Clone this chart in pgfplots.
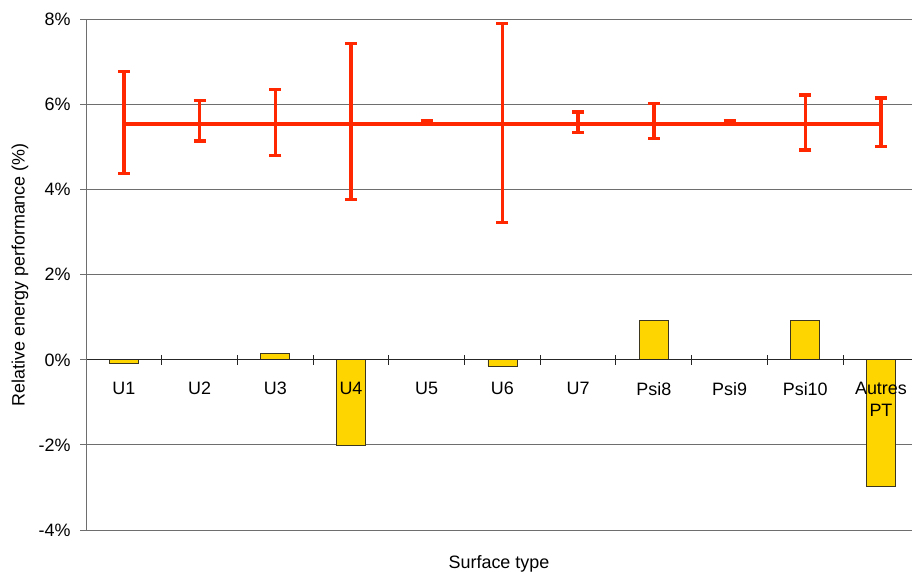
\documentclass[border=0pt]{standalone}
\usepackage{pgfplots}
\pgfplotsset{compat=1.18}
\usepackage{fontspec}
\setmainfont{Liberation Sans}
\definecolor{barfill}{RGB}{255,213,0}
\definecolor{bardraw}{RGB}{60,55,30}
\definecolor{errred}{RGB}{255,40,0}
\definecolor{gridc}{RGB}{110,110,110}
\pgfplotsset{
  layers/mylayers/.define layer set={
    axis background,axis grid,pre main,main,axis ticks,axis lines,axis tick labels,axis descriptions,axis foreground
  }{/pgfplots/layers/standard},
}
\begin{document}
\begin{tikzpicture}
\begin{axis}[
  name=ax,
  set layers=mylayers,
  scale only axis,
  width=826bp, height=510.5bp,
  xmin=-0.5, xmax=10.41,
  ymin=-4, ymax=8,
  enlargelimits=false,
  axis x line=middle,
  axis y line=left,
  axis line style={-, draw=gridc, line width=1bp},
  x axis line style={draw=black!85, line width=1bp},
  ytick={-4,-2,0,2,4,6,8},
  yticklabels={-4\%,-2\%,0\%,2\%,4\%,6\%,8\%},
  ymajorgrids,
  major grid style={draw=gridc, line width=1bp},
  ytick style={draw=gridc, line width=1bp},
  y tick label style={font=\fontsize{18}{21}\selectfont, anchor=east, xshift=-6bp},
  ytick align=outside,
  major tick length=6bp,
  xtick={0,...,10},
  xticklabels={U1,U2,U3,U4,U5,U6,U7,Psi8,Psi9,Psi10,{Autres\\PT}},
  x tick label style={font=\fontsize{18}{22}\selectfont, align=center, anchor=north, yshift=-16bp},
  xtick style={draw=none},
  minor xtick={0.5,1.5,...,9.5},
  minor x tick style={draw=black!85, line width=1bp},
  xtick align=center,
  minor tick length=10bp,
  xlabel={Surface type},
  ylabel={Relative energy performance (\%)},
  xlabel style={font=\fontsize{18}{21}\selectfont, at={(axis description cs:0.5,-0.0660)}, anchor=center},
  ylabel style={font=\fontsize{18}{21}\selectfont, at={(axis description cs:-0.0800,0.5)}, anchor=center},
  clip=false,
]
\addplot[ybar, bar width=29bp, fill=barfill, draw=bardraw, line width=0.8bp] coordinates {
  (0,-0.08) (2,0.15) (3,-2.0) (5,-0.15) (7,0.92) (9,0.92) (10,-2.98)
};
\addplot[errred, line width=3.8bp, no marks,
  error bars/.cd, y dir=both, y explicit,
  error bar style={line width=3.5bp, errred},
  error mark options={line width=3.5bp, mark size=6bp, errred, rotate=90}]
coordinates {
  (0,5.54) += (0,1.24) -= (0,1.16)
  (1,5.54) += (0,0.56) -= (0,0.40)
  (2,5.54) += (0,0.82) -= (0,0.74)
  (3,5.54) += (0,1.89) -= (0,1.77)
  (4,5.54) += (0,0.07) -= (0,0.0)
  (5,5.54) += (0,2.37) -= (0,2.31)
  (6,5.54) += (0,0.28) -= (0,0.20)
  (7,5.54) += (0,0.49) -= (0,0.34)
  (8,5.54) += (0,0.07) -= (0,0.0)
  (9,5.54) += (0,0.69) -= (0,0.61)
  (10,5.54) += (0,0.62) -= (0,0.53)
};
\end{axis}
\pgfresetboundingbox
\path ([xshift=-86bp,yshift=-41bp]ax.south west) rectangle ([yshift=19.5bp]ax.north east);
\end{tikzpicture}
\end{document}
